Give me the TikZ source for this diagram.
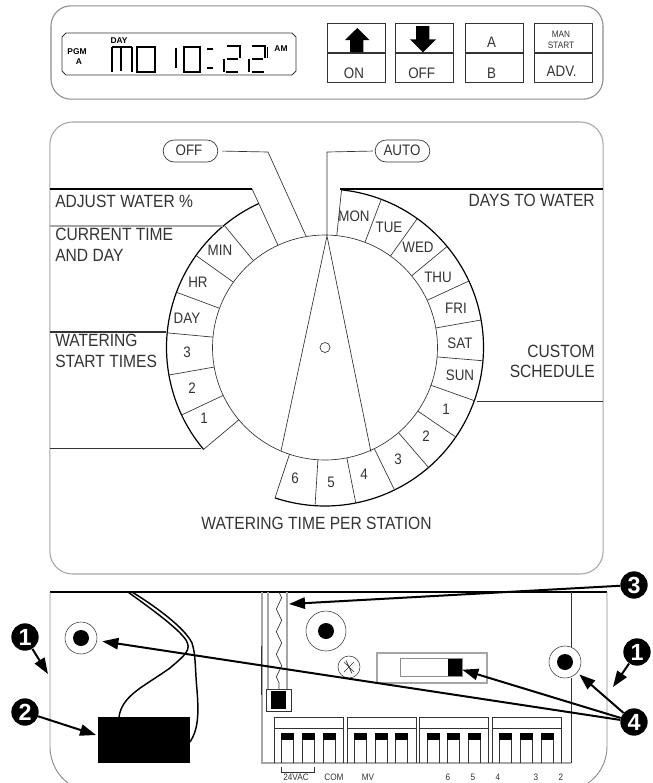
\documentclass[tikz,border=0pt]{standalone}
\usepackage{fontspec}
\setmainfont[FakeStretch=0.88]{Liberation Sans}
\newfontfamily\plainsans{Liberation Sans}
\usepackage{tikz}
\usetikzlibrary{shapes.misc,arrows.meta,decorations.pathmorphing}
\definecolor{edgegrey}{HTML}{8C8C8C}
\definecolor{softgrey}{HTML}{A6A6A6}
\definecolor{inkgrey}{HTML}{333333}
\tikzset{
  panel/.style={draw=edgegrey, line width=0.8pt, rounded corners=15pt, inner sep=0pt},
  keybox/.style={draw=inkgrey, line width=0.6pt, minimum width=43.5pt, minimum height=22.2pt, inner sep=0pt},
  pill/.style={draw=inkgrey, line width=0.5pt, rounded rectangle, minimum width=41pt, minimum height=16.5pt, inner sep=0pt},
  biglabel/.style={font=\fontsize{13.3}{15.4}\selectfont, text=inkgrey, inner sep=0pt},
  seglabel/.style={font=\fontsize{11.4}{13}\selectfont, text=inkgrey, inner sep=0pt},
  tinylabel/.style={font=\fontsize{7}{8}\selectfont, text=inkgrey, inner sep=0pt},
  lcdlabel/.style={font=\plainsans\bfseries\fontsize{6.3}{7}\selectfont, inner sep=0pt},
  hairline/.style={draw=inkgrey, line width=0.5pt},
  darkline/.style={draw=black, line width=0.9pt},
  greyline/.style={draw=softgrey, line width=0.9pt},
  lcdthin/.style={draw=black, line width=0.8pt},
  lcdthick/.style={draw=black, line width=1.4pt},
  wire/.style={draw=black, line width=1.1pt},
  hole/.style={draw=inkgrey, line width=0.4pt, circle, inner sep=0pt},
  holecore/.style={fill=black, circle, minimum size=12pt, inner sep=0pt},
  callout/.style={fill=black, circle, text=white, minimum size=20.5pt, inner sep=0pt, font=\plainsans\bfseries\fontsize{17.5}{17.5}\selectfont},
  callarrow/.style={-{Triangle[length=12pt,width=8.5pt]}, draw=black, line width=1.5pt}
}
\begin{document}
\begin{tikzpicture}[x=0.75pt,y=-0.75pt]
  \useasboundingbox (0,0) rectangle (653,783);

  % top panel
  \node[panel, minimum width=414pt, minimum height=70pt] (frontpanel) at (327,52.5) {};
  \draw[hairline, line width=0.7pt] (66,33) -- (292,33) -- (296,37) -- (296,71) -- (292,75) -- (66,75) -- (62,71) -- (62,37) -- cycle;
  \node[lcdlabel] (pgm) at (77,52) {PGM};
  \node[lcdlabel] (pgma) at (79,62) {A};
  \node[lcdlabel] (daytag) at (119,41) {DAY};
  \node[lcdlabel] (amtag) at (281,49) {AM};
  % display digits
  \draw[lcdthick] (112,47) -- (112,72) (132,47) -- (132,72) (176,48) -- (176,68);
  \draw[lcdthin] (112,47) -- (132,47) (121,48) -- (121,71);
  \draw[lcdthin] (137,47) rectangle (155,72) (184,47) rectangle (200,72);
  \draw[lcdthick] (207,49) -- (213,49) (207,68) -- (213,68);
  \draw[lcdthin] (227,46) -- (240,46) -- (240,58) (227,59) -- (238,59) (224,59) -- (224,72) (226,72) -- (238,72);
  \draw[lcdthin] (252,46) -- (265,46) -- (265,58) (252,59) -- (263,59) (249,59) -- (249,72) (252,72) -- (264,72);
  \draw[lcdthin] (267.5,47) -- (267.5,58);

  % keys
  \node[keybox] (upkey) at (356,38) {};
  \node[keybox] (onkey) at (356,67.8) {};
  \node[keybox] (downkey) at (424.8,38) {};
  \node[keybox] (offkey) at (424.8,67.8) {};
  \node[keybox] (akey) at (494,38) {};
  \node[keybox] (bkey) at (494,67.8) {};
  \node[keybox] (mankey) at (563,38) {};
  \node[keybox] (advkey) at (563,67.8) {};
  \fill (357.3,28) -- (369.3,40) -- (363.3,40) -- (363.3,52) -- (350,52) -- (350,40) -- (345,40) -- cycle;
  \fill (416,26) -- (429.3,26) -- (429.3,39.3) -- (436,39.3) -- (423,52.3) -- (410,39.3) -- (416,39.3) -- cycle;
  \node[seglabel] (ontext) at (354,73) {ON};
  \node[seglabel] (offtext) at (421.7,73) {OFF};
  \node[seglabel] (atext) at (491.6,42) {A};
  \node[seglabel] (btext) at (491.6,73) {B};
  \node[tinylabel, align=center] (mantext) at (561,40) {MAN\\START};
  \node[seglabel] (advtext) at (561.7,71.5) {ADV.};

  % dial panel
  \node[panel, draw=softgrey, rounded corners=17pt, minimum width=415pt, minimum height=339pt] (dialpanel) at (326.5,348) {};
  \coordinate (dial) at (325,347.5);
  \begin{scope}[shift={(dial)},y=0.75pt]
    \draw[hairline] (0,0) circle[radius=112.5];
    \draw[hairline] (0,0) circle[radius=5];
    \draw[darkline] (84:158.5) arc[start angle=84, end angle=-108.4, radius=158.5];
    \draw[darkline] (114.7:158.5) arc[start angle=114.7, end angle=220, radius=158.5];
    \draw[hairline]
      (84:112.5) -- (84:158.5)
      (69.2:112.5) -- (69.2:158.5)
      (54.4:112.5) -- (54.4:158.5)
      (39.6:112.5) -- (39.6:158.5)
      (24.8:112.5) -- (24.8:158.5)
      (10:112.5) -- (10:158.5)
      (-4.8:112.5) -- (-4.8:158.5)
      (-19.6:112.5) -- (-19.6:158.5)
      (-34.4:112.5) -- (-34.4:158.5)
      (-49.2:112.5) -- (-49.2:158.5)
      (-64:112.5) -- (-64:158.5)
      (-78.8:112.5) -- (-78.8:158.5)
      (-93.6:112.5) -- (-93.6:158.5)
      (-108.4:112.5) -- (-108.4:158.5);
    \draw[hairline]
      (220:112.5) -- (220:158.5)
      (205.2:112.5) -- (205.2:158.5)
      (190:112.5) -- (190:158.5)
      (174.7:112.5) -- (174.7:158.5)
      (159.6:112.5) -- (159.6:158.5)
      (144.5:112.5) -- (144.5:158.5)
      (129.5:112.5) -- (129.5:158.5)
      (114.7:112.5) -- (114.7:174.5);
  \end{scope}

  % pointer and pills
  \coordinate (apex) at (327,236);
  \coordinate (wedgeleft) at (281,451);
  \coordinate (wedgeright) at (371,452);
  \draw[hairline] (wedgeleft) -- (apex) -- (wedgeright);
  \node[pill] (offpill) at (190.5,151) {};
  \node[seglabel] (offpilltext) at (189,150) {OFF};
  \node[pill] (autopill) at (402.5,151) {};
  \node[seglabel] (autopilltext) at (402,150) {AUTO};
  \coordinate (offbend) at (268,152);
  \coordinate (offtip) at (306,236);
  \coordinate (autobend) at (327,152);
  \draw[hairline, shorten <=3pt] (offpill.east) -- (offbend) -- (offtip);
  \draw[hairline, shorten <=1.5pt] (autopill.west) -- (autobend) -- (apex);

  % rules out to the panel edge
  \draw[darkline] (50,189) -- (252,189);
  \draw[greyline] (50,226) -- (223,226);
  \draw[hairline, line width=0.8pt] (50,332) -- (166,332);
  \draw[hairline, line width=0.6pt] (50,448) -- (201,448);
  \draw[darkline] (340,189) -- (603,189);
  \draw[hairline, line width=0.6pt] (477,401) -- (603,401);

  \node[biglabel, anchor=west] (adjust) at (55,201) {ADJUST WATER \%};
  \node[biglabel, anchor=north west, align=left] (current) at (55,228) {CURRENT TIME\\AND DAY};
  \node[biglabel, anchor=north west, align=left] (startlabel) at (55,334) {WATERING\\START TIMES};
  \node[biglabel, anchor=east] (daystowater) at (595,200) {DAYS TO WATER};
  \node[biglabel, anchor=east, align=right] (custom) at (595,361.5) {CUSTOM\\SCHEDULE};
  \node[biglabel] (wtime) at (316.5,523) {WATERING TIME PER STATION};

  \node[seglabel] (mon) at (354,216) {MON};
  \node[seglabel] (tue) at (389,227) {TUE};
  \node[seglabel] (wed) at (418,247) {WED};
  \node[seglabel] (thu) at (438,277) {THU};
  \node[seglabel] (fri) at (456,308) {FRI};
  \node[seglabel] (sat) at (460,343) {SAT};
  \node[seglabel] (sun) at (460,375) {SUN};
  \node[seglabel] (st1) at (446,409) {1};
  \node[seglabel] (st2) at (426,436) {2};
  \node[seglabel] (st3) at (398,459) {3};
  \node[seglabel] (st4) at (364,474) {4};
  \node[seglabel] (st5) at (331,482) {5};
  \node[seglabel] (st6) at (295,478) {6};
  \node[seglabel] (start1) at (204,418) {1};
  \node[seglabel] (start2) at (192,388) {2};
  \node[seglabel] (start3) at (187,352) {3};
  \node[seglabel] (daylab) at (187,318) {DAY};
  \node[seglabel] (hrlab) at (198,282) {HR};
  \node[seglabel] (minlab) at (220,250) {MIN};

  % cabinet
  \draw[darkline] (50,592) -- (607,592);
  \draw[hairline, draw=edgegrey, line width=0.7pt] (50,592) -- (50,747) .. controls (50,762) and (58,776) .. (68,783);
  \draw[hairline, draw=edgegrey, line width=0.7pt] (607,592) -- (607,747) .. controls (607,762) and (599,776) .. (588,783);
  \draw[greyline] (262,592) -- (262,763) -- (571,763);
  \draw[hairline, line width=0.7pt] (261,646) -- (261,695);
  \draw[hairline, line width=0.6pt] (571,592) -- (571,647) (571,678) -- (571,763);
  \draw[greyline] (268,592) -- (268,689) (287,592) -- (287,689);
  \draw[hairline, decorate, decoration={zigzag, segment length=17pt, amplitude=2pt}] (279,592) -- (279,689);
  \node[draw=inkgrey, line width=0.4pt, fill=white, minimum width=18.5pt, minimum height=16.5pt, inner sep=0pt] (fuse) at (278.5,700) {};
  \node[fill=black, minimum width=11pt, minimum height=13.5pt, inner sep=0pt] (fusecore) at (278.5,700) {};

  % transformer and its wires
  \node[fill=black, minimum width=69pt, minimum height=34.5pt, inner sep=0pt] (battery) at (144,740) {};
  \draw[wire] (128,592) .. controls (150,608) and (178,628) .. (186,640) .. controls (192,650) and (185,655) .. (170,668) .. controls (145,686) and (122,695) .. (119,717);
  \draw[wire] (132,592) .. controls (155,606) and (185,628) .. (192,643) .. controls (196,655) and (195,670) .. (197,690) .. controls (199,715) and (198,730) .. (190,742);

  % mounting holes
  \node[hole, minimum size=24pt] (holeleft) at (81,638) {};
  \node[holecore] (coreleft) at (81,638) {};
  \node[hole, minimum size=30pt] (holemid) at (326,631) {};
  \node[holecore] (coremid) at (326,631) {};
  \node[hole, minimum size=24pt] (holeright) at (565,662) {};
  \node[holecore] (coreright) at (565,662) {};
  \node[hole, minimum size=16.5pt] (screw) at (349,667) {};
  \draw[hairline] (344,662) -- (354,672) (354,662) -- (344,672) (346,660.5) -- (352,673.5);

  % switch
  \node[draw=softgrey, line width=0.8pt, minimum width=82.5pt, minimum height=22.5pt, inner sep=0pt] (switchplate) at (432,668) {};
  \node[draw=edgegrey, line width=0.8pt, minimum width=47pt, minimum height=14pt, inner sep=0pt] (switchslot) at (431.5,667.5) {};
  \node[fill=black, minimum width=10.5pt, minimum height=12.7pt, inner sep=0pt] (slider) at (455,667.5) {};

  % terminal strips
  \draw[hairline, line width=0.7pt] (274,763) -- (274,717) -- (343,717) -- (343,763) (274,728) -- (343,728);
  \draw[hairline, line width=0.7pt] (347,763) -- (347,717) -- (416,717) -- (416,763) (347,728) -- (416,728);
  \draw[hairline, line width=0.7pt] (419,763) -- (419,717) -- (488,717) -- (488,763) (419,728) -- (488,728);
  \draw[hairline, line width=0.7pt] (492,763) -- (492,717) -- (561,717) -- (561,763) (492,728) -- (561,728);
  \foreach \px in {281,302,323,354,375,395,427,447,468,499,520,541} {
    \draw[hairline] (\px,733) -- (\px,763) (\px+12.5,733) -- (\px+12.5,763);
    \fill (\px,733) rectangle (\px+12.5,740);
  }
  \draw[hairline] (281,767) -- (281,772) -- (314,772) -- (314,767);
  \node[tinylabel] (vac) at (296,777) {24VAC};
  \node[tinylabel] (com) at (334,777) {COM};
  \node[tinylabel] (mv) at (368,777) {MV};
  \node[tinylabel] (z6) at (448,777) {6};
  \node[tinylabel] (z5) at (473,777) {5};
  \node[tinylabel] (z4) at (498,777) {4};
  \node[tinylabel] (z3) at (536,777) {3};
  \node[tinylabel] (z2) at (561,777) {2};

  % callouts
  \node[callout] (oneleft) at (25,637) {1};
  \node[callout] (two) at (25,712) {2};
  \node[callout] (oneright) at (637,652) {1};
  \node[callout] (three) at (634,585) {3};
  \node[callout] (four) at (634,722) {4};
  \coordinate (caseleft) at (48,674);
  \coordinate (caseright) at (613,687);
  \coordinate (batterytip) at (96,735);
  \coordinate (wiretip) at (289,604);
  \draw[callarrow] (oneleft) -- (caseleft);
  \draw[callarrow] (two) -- (batterytip);
  \draw[callarrow] (oneright) -- (caseright);
  \draw[callarrow] (three) -- (wiretip);
  \draw[callarrow, shorten >=4pt] (four) -- (holeleft);
  \draw[callarrow] (four) -- (slider);
  \draw[callarrow, shorten >=2pt] (four) -- (holeright);
\end{tikzpicture}
\end{document}
